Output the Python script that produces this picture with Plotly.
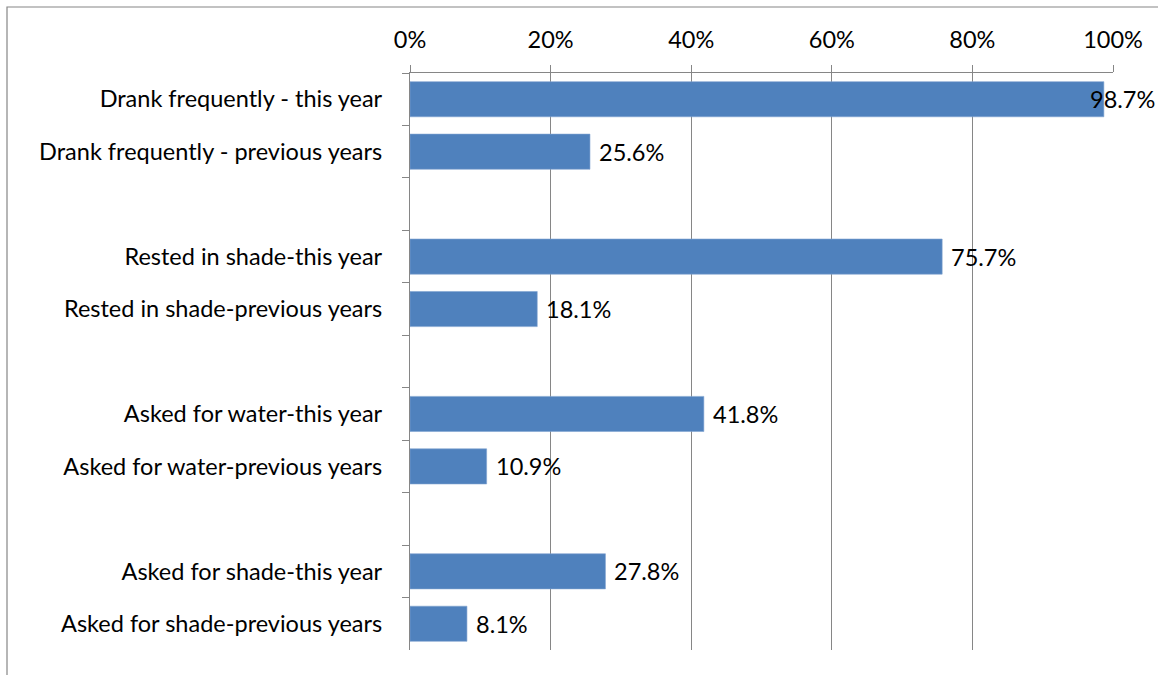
import plotly.graph_objects as go

# Survey responses: share of respondents per behaviour, this year vs previous years
categories = [
    "Drank frequently - this year",
    "Drank frequently - previous years",
    " ",
    "Rested in shade-this year",
    "Rested in shade-previous years",
    "  ",
    "Asked for water-this year",
    "Asked for water-previous years",
    "   ",
    "Asked for shade-this year",
    "Asked for shade-previous years",
]
values = [98.7, 25.6, None, 75.7, 18.1, None, 41.8, 10.9, None, 27.8, 8.1]
x_ticks = [0, 20, 40, 60, 80, 100]
x_tick_labels = ["0%", "20%", "40%", "60%", "80%", "100%"]

FONT = "Lato"
FS = 23.5
BAR = "#4F81BD"
GRID = "#868686"

fig = go.Figure()
fig.add_trace(go.Bar(
    x=values,
    y=categories,
    orientation="h",
    marker=dict(color=BAR, line=dict(color="#7FA3D0", width=0.6)),
    hoverinfo="skip",
))

# value labels just right of each bar end (the longest one pulled back inside)
for cat, v in zip(categories, values):
    if v is None:
        continue
    shift = -16 if v > 95 else 7
    fig.add_annotation(
        x=v, y=cat, text=f"{v:.1f}%", showarrow=False,
        xanchor="left", yanchor="middle", xshift=shift,
        font=dict(family=FONT, size=FS, color="#000000"),
    )

# chart frame
fig.add_shape(
    type="rect", xref="paper", yref="paper",
    x0=(7 - 410) / 703, x1=1.2, y0=-0.2, y1=1 + (73 - 7) / 577,
    line=dict(color=GRID, width=1.2), fillcolor="rgba(0,0,0,0)", layer="below",
)

fig.update_layout(
    width=1158, height=675,
    margin=dict(l=410, r=45, t=73, b=25),
    paper_bgcolor="white", plot_bgcolor="white",
    bargap=0.33,
    showlegend=False,
    font=dict(family=FONT, size=FS, color="#000000"),
    xaxis=dict(
        side="top", range=[0, 100], tickvals=x_ticks, ticktext=x_tick_labels,
        showgrid=True, gridcolor=GRID, gridwidth=1.2,
        showline=True, linecolor=GRID, linewidth=1.2,
        ticks="outside", ticklen=7, tickcolor=GRID, tickwidth=1.2,
        zeroline=False, ticklabelstandoff=8,
        tickfont=dict(family=FONT, size=FS),
    ),
    yaxis=dict(
        type="category", categoryorder="array", categoryarray=categories,
        autorange="reversed",
        showline=True, linecolor=GRID, linewidth=1.2,
        ticks="outside", ticklen=7, tickcolor=GRID, tickwidth=1.2,
        tickson="boundaries", showgrid=False, ticklabelstandoff=22,
        tickfont=dict(family=FONT, size=FS),
    ),
)

fig.write_html("out.html")
